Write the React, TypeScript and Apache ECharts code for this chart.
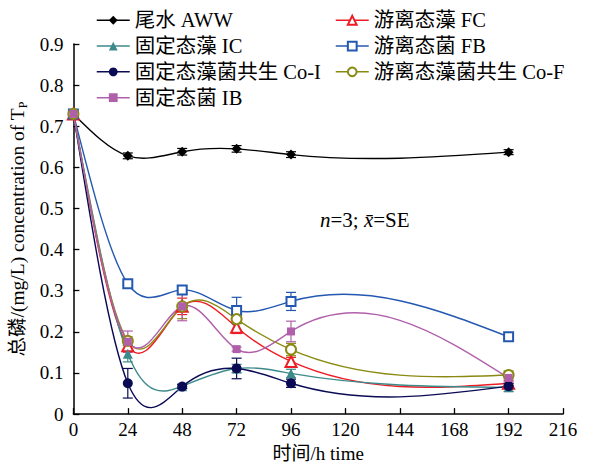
import React, { useEffect, useRef } from "react";
import * as echarts from "echarts";

const hours = [0, 24, 48, 72, 96, 192];
const xTicks = [0, 24, 48, 72, 96, 120, 144, 168, 192, 216];

const seriesNames = [
  "尾水 AWW",
  "游离态藻 FC",
  "固定态藻 IC",
  "游离态菌 FB",
  "固定态藻菌共生 Co-I",
  "游离态藻菌共生 Co-F",
  "固定态菌 IB",
];

const awwValues = [0.73, 0.628, 0.638, 0.645, 0.631, 0.637];
const awwErrors = [0.005, 0.007, 0.008, 0.008, 0.007, 0.006];
const fcValues = [0.73, 0.166, 0.262, 0.211, 0.128, 0.075];
const fcErrors = [0.005, 0.01, 0.02, 0.015, 0.01, 0.006];
const icValues = [0.73, 0.147, 0.068, 0.111, 0.099, 0.065];
const icErrors = [0.005, 0.02, 0.005, 0.01, 0.01, 0.01];
const fbValues = [0.73, 0.317, 0.302, 0.252, 0.274, 0.188];
const fbErrors = [0.005, 0.005, 0.01, 0.032, 0.022, 0.005];
const coiValues = [0.73, 0.075, 0.067, 0.111, 0.075, 0.068];
const coiErrors = [0.005, 0.036, 0.005, 0.025, 0.01, 0.006];
const cofValues = [0.73, 0.178, 0.262, 0.231, 0.157, 0.095];
const cofErrors = [0.005, 0.01, 0.03, 0.01, 0.015, 0.01];
const ibValues = [0.73, 0.176, 0.262, 0.158, 0.201, 0.088];
const ibErrors = [0.005, 0.026, 0.035, 0.005, 0.025, 0.01];

const allValues = [awwValues, fcValues, icValues, fbValues, coiValues, cofValues, ibValues];
const allErrors = [awwErrors, fcErrors, icErrors, fbErrors, coiErrors, cofErrors, ibErrors];

const styles = [
  { color: "#000000", symbol: "diamond", size: 10 },
  { color: "#ee1c24", symbol: "emptyTriangle", size: 11 },
  { color: "#3d8a8a", symbol: "triangle", size: 10 },
  { color: "#2358b0", symbol: "emptyRect", size: 9 },
  { color: "#0b0b55", symbol: "circle", size: 10 },
  { color: "#8a8a12", symbol: "emptyCircle", size: 10 },
  { color: "#b060aa", symbol: "rect", size: 8 },
];

const FONT = "'Liberation Serif', 'Times New Roman', 'Noto Sans CJK SC', serif";

function splineSlopes(xs: number[], ys: number[]): number[] {
  const n = xs.length;
  const h: number[] = [];
  for (let i = 0; i < n - 1; i++) h.push(xs[i + 1] - xs[i]);
  const M = new Array(n).fill(0);
  if (n > 2) {
    const m = n - 2;
    const a: number[] = [], b: number[] = [], c: number[] = [], d: number[] = [];
    for (let k = 0; k < m; k++) {
      const i = k + 1;
      a.push(h[i - 1]);
      b.push(2 * (h[i - 1] + h[i]));
      c.push(h[i]);
      d.push(6 * ((ys[i + 1] - ys[i]) / h[i] - (ys[i] - ys[i - 1]) / h[i - 1]));
    }
    for (let k = 1; k < m; k++) {
      const w = a[k] / b[k - 1];
      b[k] -= w * c[k - 1];
      d[k] -= w * d[k - 1];
    }
    const sol = new Array(m).fill(0);
    sol[m - 1] = d[m - 1] / b[m - 1];
    for (let k = m - 2; k >= 0; k--) sol[k] = (d[k] - c[k] * sol[k + 1]) / b[k];
    for (let k = 0; k < m; k++) M[k + 1] = sol[k];
  }
  const slopes: number[] = [];
  for (let i = 0; i < n - 1; i++) {
    slopes.push((ys[i + 1] - ys[i]) / h[i] - (h[i] * (2 * M[i] + M[i + 1])) / 6);
  }
  const l = n - 1;
  slopes.push((ys[l] - ys[l - 1]) / h[l - 1] + (h[l - 1] * (M[l - 1] + 2 * M[l])) / 6);
  return slopes;
}

export default function App() {
  const ref = useRef<HTMLDivElement>(null);

  useEffect(() => {
    if (!ref.current) return;
    const chart = echarts.init(ref.current, undefined, { renderer: "svg" });

    const curveSeries = allValues.map((vals, si) => {
      const slopes = splineSlopes(hours, vals);
      const col = styles[si].color;
      return {
        type: "custom",
        name: seriesNames[si] + "_curve",
        z: 1,
        silent: true,
        data: hours.map((h, i) => [h, vals[i], allErrors[si][i]]),
        renderItem: (params: any, api: any) => {
          const i = params.dataIndex;
          const x = api.value(0);
          const y = api.value(1);
          const e = api.value(2);
          const top = api.coord([x, y + e]);
          const bot = api.coord([x, y - e]);
          const capW = 5;
          const children: any[] = [];
          const lineStyle = { stroke: col, lineWidth: 1.2, fill: "none" };
          if (i < hours.length - 1) {
            const x1 = hours[i + 1];
            const y1 = vals[i + 1];
            const hh = x1 - x;
            const p0 = api.coord([x, y]);
            const p1 = api.coord([x1, y1]);
            const c1 = api.coord([x + hh / 3, y + (slopes[i] * hh) / 3]);
            const c2 = api.coord([x1 - hh / 3, y1 - (slopes[i + 1] * hh) / 3]);
            children.push({
              type: "bezierCurve",
              shape: {
                x1: p0[0], y1: p0[1], x2: p1[0], y2: p1[1],
                cpx1: c1[0], cpy1: c1[1], cpx2: c2[0], cpy2: c2[1],
              },
              style: { stroke: col, lineWidth: 1.4, fill: "none" },
            });
          }
          if (i > 0) {
            children.push({ type: "line", shape: { x1: top[0], y1: top[1], x2: bot[0], y2: bot[1] }, style: lineStyle });
            children.push({ type: "line", shape: { x1: top[0] - capW, y1: top[1], x2: top[0] + capW, y2: top[1] }, style: lineStyle });
            children.push({ type: "line", shape: { x1: bot[0] - capW, y1: bot[1], x2: bot[0] + capW, y2: bot[1] }, style: lineStyle });
          }
          return { type: "group", children };
        },
      };
    });

    const markerSeries = allValues.map((vals, si) => ({
      type: "line",
      name: seriesNames[si],
      z: 3,
      data: hours.map((h, i) => [h, vals[i]]),
      symbol: styles[si].symbol,
      symbolSize: styles[si].size,
      showSymbol: true,
      itemStyle: { color: styles[si].color, borderWidth: 1.5 },
      lineStyle: { color: styles[si].color, width: 1.4, opacity: 0 },
      emphasis: { disabled: true },
    }));

    const legendCommon = {
      orient: "vertical",
      itemWidth: 33,
      itemHeight: 11,
      itemGap: 5.3,
      padding: 0,
      selectedMode: false,
      textStyle: { fontSize: 20.5, lineHeight: 20, fontFamily: FONT, color: "#000" },
      lineStyle: { opacity: 1, width: 1.5 },
    };

    chart.setOption({
      animation: false,
      backgroundColor: "#fff",
      grid: { left: 73, right: 35, top: 44, bottom: 50 },
      legend: [
        { ...legendCommon, left: 96, top: 10, data: [seriesNames[0], seriesNames[2], seriesNames[4], seriesNames[6]] },
        { ...legendCommon, left: 335, top: 10, data: [seriesNames[1], seriesNames[3], seriesNames[5]] },
      ],
      xAxis: {
        type: "value",
        min: xTicks[0],
        max: xTicks[xTicks.length - 1],
        interval: 24,
        name: "时间/h time",
        nameLocation: "middle",
        nameGap: 27,
        nameTextStyle: { fontSize: 19, fontFamily: FONT, color: "#000" },
        axisLine: { lineStyle: { color: "#000", width: 1.5 } },
        axisTick: { inside: true, length: 6, lineStyle: { color: "#000", width: 1.3 } },
        axisLabel: { fontSize: 19, fontFamily: FONT, color: "#000", margin: 6 },
        splitLine: { show: false },
      },
      yAxis: {
        type: "value",
        min: 0,
        max: 0.9,
        interval: 0.1,
        name: "总磷/(mg/L) concentration of T{sub|P}",
        nameLocation: "middle",
        nameGap: 40,
        nameTextStyle: {
          fontSize: 19.5,
          fontFamily: FONT,
          color: "#000",
          rich: { sub: { fontSize: 12, fontFamily: FONT, color: "#000", verticalAlign: "bottom", padding: [10, 0, 0, 0] } },
        },
        axisLine: { show: true, lineStyle: { color: "#000", width: 1.5 } },
        axisTick: { show: true, inside: true, length: 6, lineStyle: { color: "#000", width: 1.3 } },
        axisLabel: { fontSize: 19, fontFamily: FONT, color: "#000", margin: 10 },
        splitLine: { show: false },
      },
      graphic: [
        {
          type: "text",
          left: 320,
          top: 209,
          style: {
            text: "{i|n}=3; {i|x\u0304}=SE",
            fontSize: 21,
            fontFamily: FONT,
            fill: "#000",
            rich: { i: { fontStyle: "italic", fontSize: 21, fontFamily: FONT } },
          },
        },
      ],
      series: [...curveSeries, ...markerSeries],
    });

    return () => chart.dispose();
  }, []);

  return <div ref={ref} style={{ width: 598, height: 468, position: "absolute", left: 0, top: 0 }} />;
}
